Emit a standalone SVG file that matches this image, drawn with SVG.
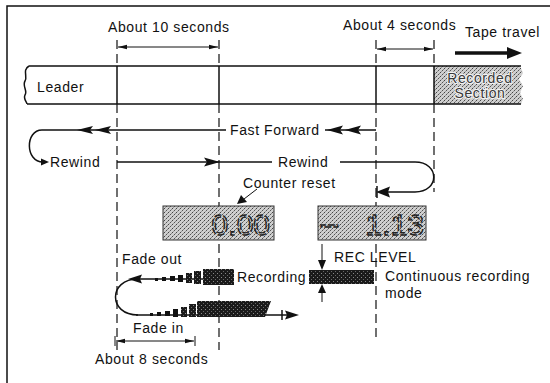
<svg xmlns="http://www.w3.org/2000/svg" width="550" height="383" viewBox="0 0 550 383">
<style>
.t{font-family:"Liberation Sans",Arial,sans-serif;font-size:14px;letter-spacing:0.6px;fill:#111}
.ln{stroke:#111;stroke-width:1.5;fill:none}
.thin{stroke:#111;stroke-width:1;fill:none}
.dash{stroke:#111;stroke-width:1.2;stroke-dasharray:9 5;fill:none}
.ah{fill:#111;stroke:none}
.rs{fill:#3a3a3a;stroke:#f2f2f2;stroke-width:2.2;paint-order:stroke;stroke-linejoin:round}
.seg{font-family:"Liberation Sans",Arial,sans-serif;font-size:30px;fill:none;stroke:#222;stroke-width:1.4;stroke-dasharray:7 2}
</style>
<defs>
<pattern id="stip" width="4" height="4" patternUnits="userSpaceOnUse">
<rect width="4" height="4" fill="#cfcfcf"/>
<rect x="0" y="0" width="1" height="1" fill="#444"/>
<rect x="2" y="2" width="1" height="1" fill="#555"/>
<rect x="3" y="1" width="1" height="1" fill="#888"/>
<rect x="1" y="3" width="1" height="1" fill="#999"/>
</pattern>
<pattern id="dark" width="4" height="4" patternUnits="userSpaceOnUse">
<rect width="4" height="4" fill="#1a1a1a"/>
<rect x="1" y="1" width="1" height="1" fill="#888"/>
<rect x="3" y="3" width="1" height="1" fill="#666"/>
</pattern>
<marker id="dimE" markerWidth="9" markerHeight="6" refX="9" refY="3" orient="auto" markerUnits="userSpaceOnUse">
<path d="M0,0.8 L9,3 L0,5.2 Z" fill="#111"/>
</marker>
<marker id="dimS" markerWidth="9" markerHeight="6" refX="0" refY="3" orient="auto" markerUnits="userSpaceOnUse">
<path d="M9,0.8 L0,3 L9,5.2 Z" fill="#111"/>
</marker>
</defs>

<g id="frame">
<path class="ln" d="M7,383 L7,6 L550,6"/>
</g>

<g id="tape">
<polygon points="434,66 520,66 523,73 519,79 523,86 520,93 523,99 521,104 434,104" fill="url(#stip)"/>
<path class="ln" d="M29,66 L521,66 M27,104 L521,104"/>
<path class="ln" d="M29,66 C22,70 28,77 25,81 C22,86 28,91 25,95 C23,99 27,102 27,104"/>
<path class="ln" d="M117,66 V104 M219,66 V104 M376,66 V104 M434,66 V104"/>
<text class="t" x="37" y="92">Leader</text>
<text class="t rs" x="480" y="83" text-anchor="middle">Recorded</text>
<text class="t rs" x="480" y="98" text-anchor="middle">Section</text>
</g>

<g id="guides">
<path class="dash" d="M117,40 V66 M117,104 V350"/>
<path class="dash" d="M219,40 V66 M219,104 V350"/>
<path class="dash" d="M376,40 V66 M376,104 V340"/>
<path class="dash" d="M434,40 V66 M434,104 V192"/>
</g>

<g id="dimensions">
<path class="thin" d="M118,47 H218" marker-start="url(#dimS)" marker-end="url(#dimE)"/>
<text class="t" x="108" y="32">About 10 seconds</text>
<path class="thin" d="M377,49 H433" marker-start="url(#dimS)" marker-end="url(#dimE)"/>
<text class="t" x="343" y="30">About 4 seconds</text>
<path class="thin" d="M116,341 H194" marker-start="url(#dimS)" marker-end="url(#dimE)"/>
<path class="thin" d="M115,336 V346 M195,336 V346"/>
<text class="t" x="95" y="364">About 8 seconds</text>
</g>

<g id="tape-travel">
<path d="M455,53 H509" stroke="#111" stroke-width="3.5"/>
<path class="ah" d="M507,47 L522,53 L507,59 Z"/>
<text class="t" x="465" y="37">Tape travel</text>
</g>

<g id="connectors">
<!-- fast forward -->
<path class="ln" d="M42,130 H226 M325,130 H376"/>
<path class="ah" d="M77,130 L93,126 L90,130 L93,134 Z M95,130 L111,126 L108,130 L111,134 Z"/>
<path class="ah" d="M327,130 L343,125.5 L340,130 L343,134.5 Z M345,130 L361,125.5 L358,130 L361,134.5 Z"/>
<text class="t" x="230" y="135">Fast Forward</text>
<!-- rewind left loop -->
<path class="ln" d="M42,130 C25,130 25,162 43,162"/>
<path class="ah" d="M49,162 L41,158.5 L41,165.5 Z"/>
<text class="t" x="50" y="167">Rewind</text>
<!-- rewind middle -->
<path class="ln" d="M117,162 H272"/>
<path class="ah" d="M220,162 L204,157.5 L207,162 L204,166.5 Z"/>
<text class="t" x="278" y="167">Rewind</text>
<path class="ln" d="M340,162 H415 C440,162 440,192 415,192 L384,192"/>
<path class="ah" d="M376,192 L390,186.5 L388,192 L390,197.5 Z"/>
<path class="ln" d="M377,186 V198"/>
<!-- counter reset pointer -->
<text class="t" x="243" y="188">Counter reset</text>
<path class="thin" d="M257,189 L244,199"/>
<path class="ah" d="M237,204 L241,195 L247,202 Z"/>
<!-- rec level arrows -->
<path class="thin" d="M322,244 V262"/>
<path class="ah" d="M322,270 L318,260 L326,260 Z"/>
<path class="thin" d="M322,302 V290"/>
<path class="ah" d="M322,284 L318,293 L326,293 Z"/>
</g>

<g id="lcd-counter">
<rect x="163" y="206" width="111" height="34" fill="url(#stip)" stroke="#333" stroke-width="1"/>
<text class="seg" x="270" y="235" text-anchor="end">0.00</text>
</g>

<g id="lcd-level">
<rect x="318" y="206" width="108" height="34" fill="url(#stip)" stroke="#333" stroke-width="1"/>
<text class="seg" x="321" y="234">–</text>
<text class="seg" x="424" y="235" text-anchor="end">1.13</text>
</g>

<g id="rec-level">
<text class="t" x="334" y="262">REC LEVEL</text>
<rect x="309" y="270" width="65" height="14" fill="url(#dark)"/>
<text class="t" x="385" y="281">Continuous recording</text>
<text class="t" x="385" y="298">mode</text>
</g>

<g id="fade">
<text class="t" x="122" y="264">Fade out</text>
<text class="t" x="237" y="282">Recording</text>
<text class="t" x="133" y="333">Fade in</text>
<!-- upper fade-out line -->
<path class="ln" d="M136,279 H210"/>
<path class="ah" d="M128,279 L142,274.5 L140,279 L142,283.5 Z"/>
<rect x="155" y="278" width="3" height="3" fill="#111"/>
<rect x="162" y="277" width="4" height="4" fill="#111"/>
<rect x="170" y="276" width="5" height="5" fill="#111"/>
<rect x="178" y="275" width="5" height="7" fill="#111"/>
<rect x="186" y="273" width="6" height="10" fill="url(#dark)"/>
<rect x="194" y="271" width="7" height="13" fill="url(#dark)"/>
<rect x="203" y="269" width="31" height="16" fill="url(#dark)"/>
<!-- loop -->
<path class="ln" d="M138,279 C108,279 108,315 138,315"/>
<!-- lower fade-in line -->
<path class="ln" d="M136,315 H291"/>
<path class="ah" d="M299,315 L285,310.5 L287,315 L285,319.5 Z"/>
<path class="ln" d="M282,310 V320"/>
<rect x="150" y="313" width="3" height="3" fill="#111"/>
<rect x="157" y="312" width="4" height="4" fill="#111"/>
<rect x="165" y="311" width="5" height="5" fill="#111"/>
<rect x="173" y="309" width="5" height="8" fill="#111"/>
<rect x="181" y="307" width="6" height="10" fill="url(#dark)"/>
<rect x="189" y="304" width="7" height="13" fill="url(#dark)"/>
<polygon points="197,301 271,301 265,317 197,317" fill="url(#dark)"/>
</g>
</svg>
